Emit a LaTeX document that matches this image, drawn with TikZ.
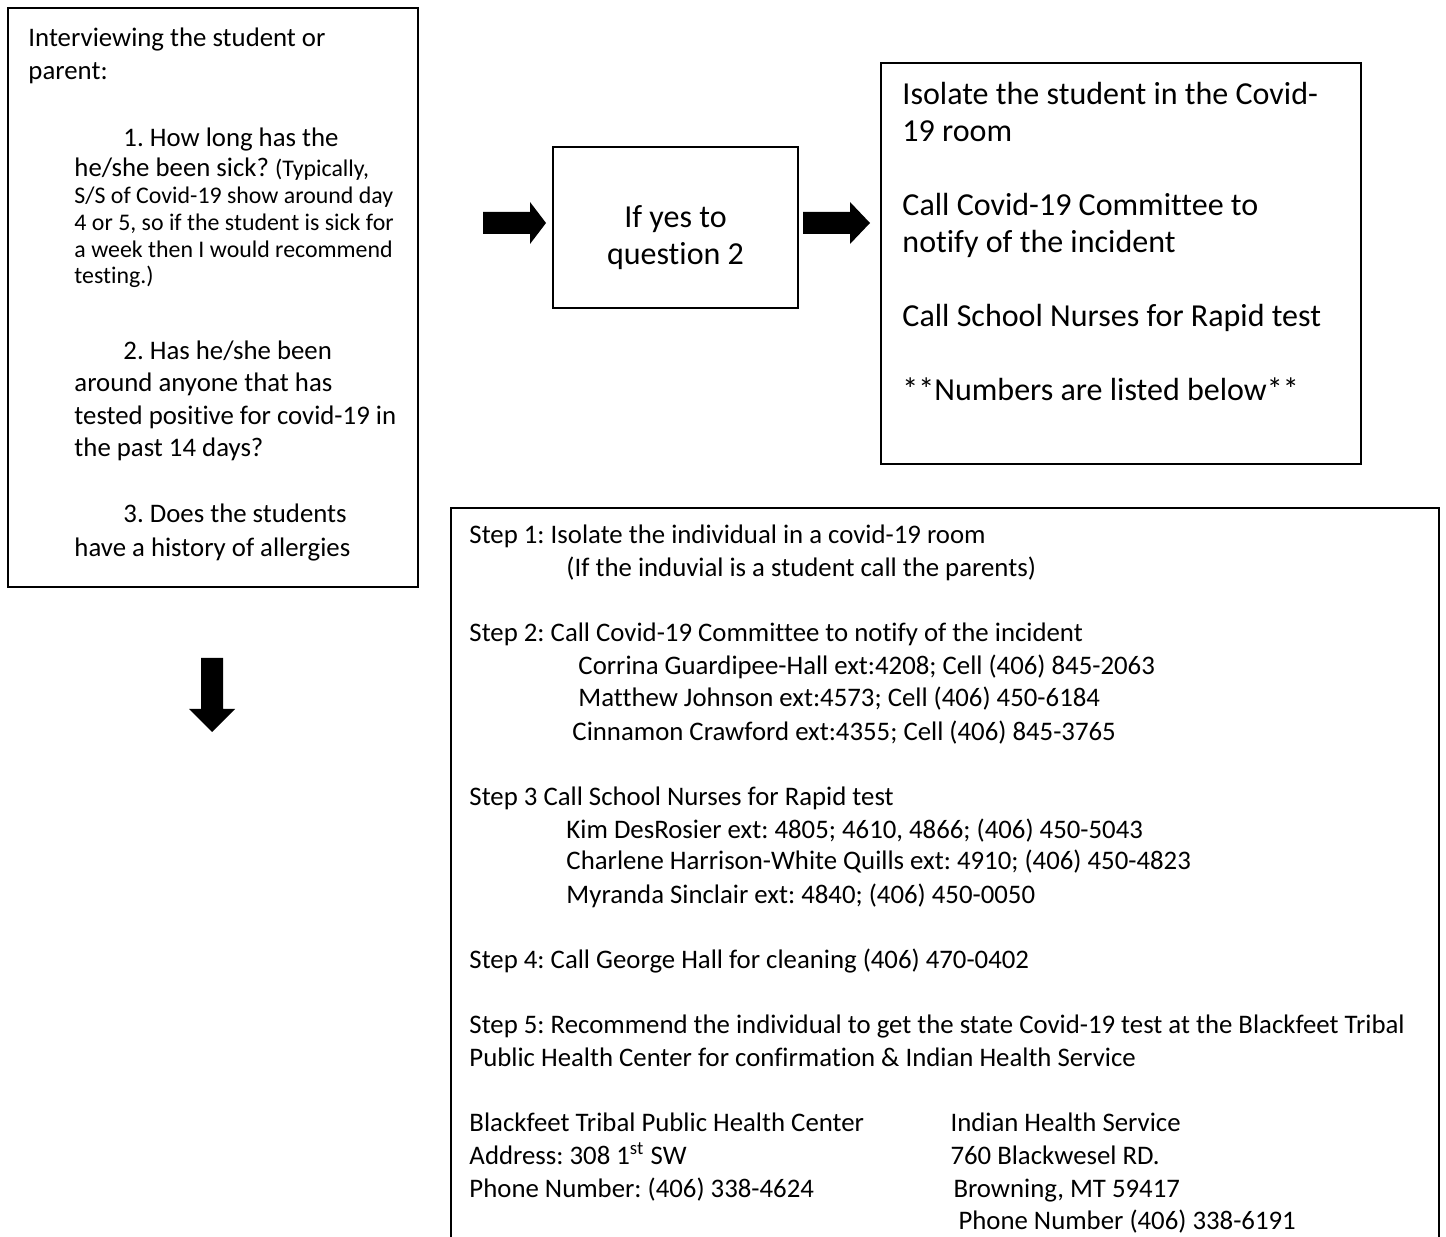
\documentclass[tikz,border=0pt]{standalone}
\usepackage{fontspec}
\setmainfont{Carlito}[Ligatures=CommonOff]
\frenchspacing
\begin{document}
\begin{tikzpicture}[x=0.4107pt,y=-0.4107pt,
  box/.style={draw=black,line width=0.8pt},
  ln/.style={anchor=base west,inner sep=0pt,font=\fontsize{11}{13.4}\selectfont},
  sm/.style={anchor=base west,inner sep=0pt,font=\fontsize{9.8}{11.5}\selectfont},
  bg/.style={anchor=base west,inner sep=0pt,font=\fontsize{13.15}{16}\selectfont},
  bgc/.style={anchor=base,inner sep=0pt,font=\fontsize{13.15}{16}\selectfont},
  blockarrow/.style={fill=black}]
\useasboundingbox (0,0) rectangle (1446,1237);
% boxes
\draw[box] (8,8) rectangle (418,587);
\draw[box] (553,147) rectangle (798,308);
\draw[box] (881,63) rectangle (1361,464);
\draw[box] (451,1245) -- (451,508) -- (1439,508) -- (1439,1245);
% arrows
\fill[blockarrow] (483,212) -- (530,212) -- (530,202) -- (546,223) -- (530,244) -- (530,234) -- (483,234) -- cycle;
\fill[blockarrow] (803,212) -- (850,212) -- (850,202) -- (870,223) -- (850,244) -- (850,234) -- (803,234) -- cycle;
\fill[blockarrow] (201,658) -- (223,658) -- (223,709) -- (235,709) -- (212,732) -- (189,709) -- (201,709) -- cycle;
% left box
\node[ln] (a1) at (28,47) {Interviewing the student or};
\node[ln] (a2) at (28,80) {parent:};
\node[ln] (a3) at (123,147) {1. How long has the};
\node[ln] (a4) at (74,177) {he/she been sick? {\fontsize{9.8}{11.5}\selectfont (Typically,}};
\node[sm] (a5) at (74,204) {S/S of Covid-19 show around day};
\node[sm] (a6) at (74,231) {4 or 5, so if the student is sick for};
\node[sm] (a7) at (74,258) {a week then I would recommend};
\node[sm] (a8) at (74,284) {testing.)};
\node[ln] (a9) at (123,360) {2. Has he/she been};
\node[ln] (a10) at (74,392) {around anyone that has};
\node[ln] (a11) at (74,425) {tested positive for covid-19 in};
\node[ln] (a12) at (74,457) {the past 14 days?};
\node[ln] (a13) at (123,523) {3. Does the students};
\node[ln] (a14) at (74,557) {have a history of allergies};
% middle box
\node[bgc] (m1) at (675.5,228) {If yes to};
\node[bgc] (m2) at (675.5,265) {question 2};
% right box
\node[bg] (r1) at (902,105) {Isolate the student in the Covid-};
\node[bg] (r2) at (902,142) {19 room};
\node[bg] (r3) at (902,216) {Call Covid-19 Committee to};
\node[bg] (r4) at (902,253) {notify of the incident};
\node[bg] (r5) at (902,327) {Call School Nurses for Rapid test};
\node[bg] (r6) at (902,401) {**Numbers are listed below**};
% bottom box
\node[ln] (b1) at (469,544) {Step 1: Isolate the individual in a covid-19 room};
\node[ln] (b2) at (566,577) {(If the induvial is a student call the parents)};
\node[ln] (b3) at (469,642) {Step 2: Call Covid-19 Committee to notify of the incident};
\node[ln] (b4) at (578,675) {Corrina Guardipee-Hall ext:4208; Cell (406) 845-2063};
\node[ln] (b5) at (578,707) {Matthew Johnson ext:4573; Cell (406) 450-6184};
\node[ln] (b6) at (572,740) {Cinnamon Crawford ext:4355; Cell (406) 845-3765};
\node[ln] (b7) at (469,805) {Step 3 Call School Nurses for Rapid test};
\node[ln] (b8) at (566,838) {Kim DesRosier ext: 4805; 4610, 4866; (406) 450-5043};
\node[ln] (b9) at (566,870) {Charlene Harrison-White Quills ext: 4910; (406) 450-4823};
\node[ln] (b10) at (566,903) {Myranda Sinclair ext: 4840; (406) 450-0050};
\node[ln] (b11) at (469,968) {Step 4: Call George Hall for cleaning (406) 470-0402};
\node[ln] (b12) at (469,1033) {Step 5: Recommend the individual to get the state Covid-19 test at the Blackfeet Tribal};
\node[ln] (b13) at (469,1066) {Public Health Center for confirmation \& Indian Health Service};
\node[ln] (b14) at (469,1131) {Blackfeet Tribal Public Health Center};
\node[ln] (b15) at (469,1164) {Address: 308 1\textsuperscript{st} SW};
\node[ln] (b16) at (469,1197) {Phone Number: (406) 338-4624};
\node[ln] (c1) at (950,1131) {Indian Health Service};
\node[ln] (c2) at (950,1164) {760 Blackwesel RD.};
\node[ln] (c3) at (953,1197) {Browning, MT 59417};
\node[ln] (c4) at (958,1229) {Phone Number (406) 338-6191};
\end{tikzpicture}
\end{document}
